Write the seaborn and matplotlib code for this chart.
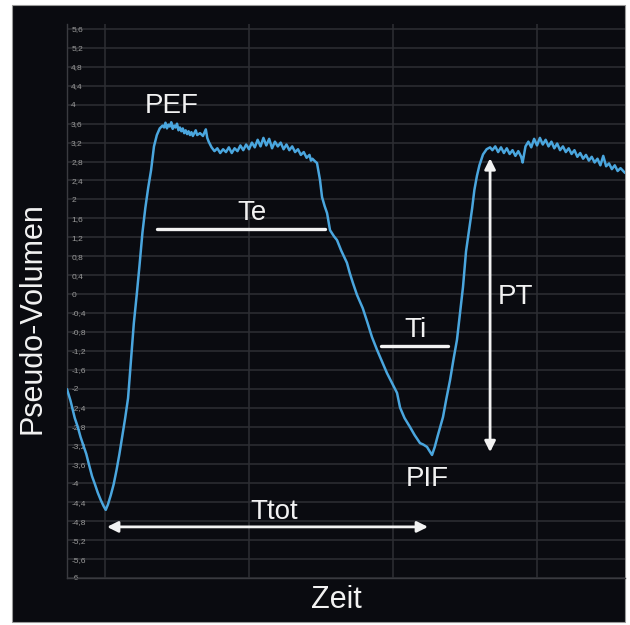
import matplotlib
matplotlib.use("Agg")
import matplotlib.pyplot as plt
from matplotlib.patches import Rectangle
import seaborn as sns
import pandas as pd

# ---- data ----
zeit = [0.736, 0.76, 0.79, 0.81, 0.83, 0.85, 0.87, 0.89, 0.91, 0.93, 0.95, 0.97, 0.99, 1.005,
        1.02, 1.04, 1.06, 1.08, 1.10, 1.12, 1.14, 1.16, 1.18, 1.20, 1.22, 1.24, 1.26, 1.28,
        1.30, 1.32, 1.34, 1.36, 1.38, 1.40, 1.41,
        1.42, 1.43, 1.44, 1.45, 1.46, 1.47, 1.48, 1.49, 1.50, 1.51, 1.52, 1.53, 1.54, 1.55,
        1.56, 1.57, 1.58, 1.59, 1.60, 1.61, 1.62, 1.63, 1.64, 1.66, 1.68, 1.70, 1.71, 1.72,
        1.74, 1.76, 1.78, 1.80, 1.82, 1.84, 1.86, 1.88, 1.90, 1.92, 1.94, 1.96, 1.98, 2.00,
        2.02, 2.04, 2.06, 2.08, 2.10, 2.12, 2.14, 2.16, 2.18, 2.20, 2.22, 2.24, 2.26, 2.28,
        2.30, 2.32, 2.34, 2.36, 2.38, 2.40, 2.42, 2.43, 2.44, 2.46,
        2.472, 2.493, 2.507, 2.525, 2.542, 2.5625, 2.59, 2.611, 2.64, 2.68, 2.70, 2.722,
        2.75, 2.79, 2.82, 2.854, 2.889, 2.92, 2.958, 2.99, 3.028, 3.049, 3.08, 3.118, 3.15,
        3.1875, 3.21, 3.236, 3.25, 3.271, 3.29, 3.31, 3.347, 3.37, 3.396, 3.42, 3.444, 3.465,
        3.486, 3.507, 3.53, 3.549, 3.565, 3.583, 3.60, 3.625, 3.65, 3.674,
        3.69, 3.71, 3.73, 3.75, 3.77, 3.79, 3.81, 3.83, 3.85, 3.87, 3.89, 3.90, 3.92, 3.94,
        3.96, 3.98, 4.00, 4.02, 4.04, 4.06, 4.08, 4.10, 4.12, 4.14, 4.16, 4.18, 4.20, 4.22,
        4.24, 4.26, 4.28, 4.30, 4.32, 4.34, 4.36, 4.38, 4.40, 4.42, 4.44, 4.46, 4.48, 4.50,
        4.52, 4.54, 4.56, 4.58, 4.611]
volumen = [-2.01, -2.25, -2.62, -2.80, -3.02, -3.20, -3.38, -3.62, -3.85, -4.02, -4.20, -4.35, -4.48, -4.56,
           -4.45, -4.25, -4.02, -3.72, -3.38, -3.00, -2.62, -2.20, -1.40, -0.62, -0.02, 0.62, 1.30, 1.82,
           2.25, 2.62, 3.12, 3.36, 3.50, 3.56, 3.52,
           3.62, 3.50, 3.58, 3.54, 3.63, 3.49, 3.56, 3.52, 3.60, 3.46, 3.52, 3.44, 3.50, 3.40,
           3.46, 3.38, 3.44, 3.36, 3.42, 3.34, 3.40, 3.46, 3.36, 3.40, 3.34, 3.48, 3.30, 3.22,
           3.10, 3.02, 3.08, 2.98, 3.06, 3.00, 3.10, 2.98, 3.08, 3.02, 3.14, 3.04, 3.16, 3.06,
           3.20, 3.10, 3.26, 3.12, 3.30, 3.14, 3.28, 3.08, 3.22, 3.12, 3.20, 3.06, 3.16, 3.04,
           3.12, 3.00, 3.06, 2.94, 3.00, 2.88, 2.94, 2.82, 2.86, 2.80,
           2.77, 2.41, 2.05, 1.86, 1.71, 1.35, 1.22, 1.14, 0.92, 0.66, 0.44, 0.23,
           -0.02, -0.30, -0.58, -0.91, -1.18, -1.40, -1.67, -1.86, -2.09, -2.40, -2.62, -2.81, -2.98,
           -3.15, -3.18, -3.23, -3.30, -3.40, -3.23, -3.00, -2.60, -2.22, -1.82, -1.38, -0.97, -0.40,
           0.15, 0.90, 1.40, 1.80, 2.20, 2.50, 2.72, 2.95, 3.06, 3.10,
           3.04, 3.12, 3.00, 3.10, 2.98, 3.08, 2.96, 3.04, 2.92, 3.02, 2.90, 2.78, 3.12, 3.22,
           3.10, 3.28, 3.14, 3.30, 3.16, 3.26, 3.12, 3.22, 3.08, 3.18, 3.04, 3.12, 3.00, 3.08,
           2.96, 3.04, 2.90, 2.98, 2.86, 2.94, 2.82, 2.90, 2.78, 2.86, 2.72, 2.92, 2.70, 2.76,
           2.64, 2.72, 2.60, 2.66, 2.56]

y_ticks = [5.6, 5.2, 4.8, 4.4, 4.0, 3.6, 3.2, 2.8, 2.4, 2.0, 1.6, 1.2, 0.8, 0.4, 0.0,
           -0.4, -0.8, -1.2, -1.6, -2.0, -2.4, -2.8, -3.2, -3.6, -4.0, -4.4, -4.8, -5.2, -5.6, -6.0]
y_tick_labels = ["5,6", "5,2", "4,8", "4,4", "4", "3,6", "3,2", "2,8", "2,4", "2", "1,6", "1,2",
                 "0,8", "0,4", "0", "-0,4", "-0,8", "-1,2", "-1,6", "-2", "-2,4", "-2,8", "-3,2",
                 "-3,6", "-4", "-4,4", "-4,8", "-5,2", "-5,6", "-6"]
x_grid = [1, 2, 3, 4]

# annotation values (data units)
te_line = (1.361, 2.528, 1.37)
ti_line = (2.917, 3.382, -1.10)
pt_arrow = (3.674, 2.87, -3.34)
ttot_arrow = (1.014, 3.243, -4.92)
labels = {"PEF": (1.465, 3.97), "Te": (2.02, 1.71), "Ti": (3.153, -0.76),
          "PIF": (3.236, -3.91), "PT": (3.854, -0.06), "Ttot": (2.174, -4.60)}

df = pd.DataFrame({"Zeit": zeit, "Pseudo-Volumen": volumen})

sns.set_theme(style="dark")
plt.rcParams["font.family"] = ["Liberation Sans", "DejaVu Sans"]

BG = "#0a0b10"
GRID = "#2e2f34"
WHITE = "#f2f2f2"
LINE = "#4aa6de"

fig = plt.figure(figsize=(6.3, 6.25), dpi=100, facecolor="white")
fig.patches.append(Rectangle((12 / 630, 1 - 622 / 625), (625 - 12) / 630, (622 - 5) / 625,
                             transform=fig.transFigure, facecolor=BG, edgecolor="#9a9a9a",
                             linewidth=0.8, zorder=-5))
ax = fig.add_axes([67 / 630, 1 - 578 / 625, (625 - 67) / 630, (578 - 24.3) / 625])
ax.set_facecolor(BG)

sns.lineplot(data=df, x="Zeit", y="Pseudo-Volumen", ax=ax, color=LINE, linewidth=1.8,
             estimator=None, sort=False, zorder=3)

ax.set_xlim(0.736, 4.611)
ax.set_ylim(-6.0, 5.7)
ax.set_yticks(y_ticks)
ax.set_yticklabels(y_tick_labels)
ax.set_xticks(x_grid)
ax.set_xticklabels([])
ax.grid(True, color=GRID, linewidth=1.1, zorder=0)
ax.tick_params(axis="y", length=0, pad=-3, labelsize=6, labelcolor="#9a9a9a")
ax.tick_params(axis="x", length=0)
for lbl in ax.get_yticklabels():
    lbl.set_horizontalalignment("left")
for s in ["top", "right"]:
    ax.spines[s].set_visible(False)
for s in ["left", "bottom"]:
    ax.spines[s].set_color("#3a3b40")
    ax.spines[s].set_linewidth(1.0)

ax.set_ylabel("Pseudo-Volumen", fontsize=22, color=WHITE)
ax.yaxis.set_label_coords(-0.035, 0.47)
ax.set_xlabel("Zeit", fontsize=22, color=WHITE)
ax.xaxis.set_label_coords(0.482, -0.012)

# annotations
ax.plot([te_line[0], te_line[1]], [te_line[2], te_line[2]], color=WHITE, lw=2.4, zorder=4)
ax.plot([ti_line[0], ti_line[1]], [ti_line[2], ti_line[2]], color=WHITE, lw=2.4, zorder=4)
ax.annotate("", xy=(pt_arrow[0], pt_arrow[1]), xytext=(pt_arrow[0], pt_arrow[2]),
            arrowprops=dict(arrowstyle="<|-|>", color=WHITE, lw=2.0, mutation_scale=16,
                            shrinkA=0, shrinkB=0), zorder=4)
ax.annotate("", xy=(ttot_arrow[0], ttot_arrow[2]), xytext=(ttot_arrow[1], ttot_arrow[2]),
            arrowprops=dict(arrowstyle="<|-|>", color=WHITE, lw=2.0, mutation_scale=16,
                            shrinkA=0, shrinkB=0), zorder=4)
for txt, (x, y) in labels.items():
    ax.text(x, y, txt, color=WHITE, fontsize=20, ha="center", va="center", zorder=5)

fig.savefig("out.png", dpi=100, facecolor="white")
